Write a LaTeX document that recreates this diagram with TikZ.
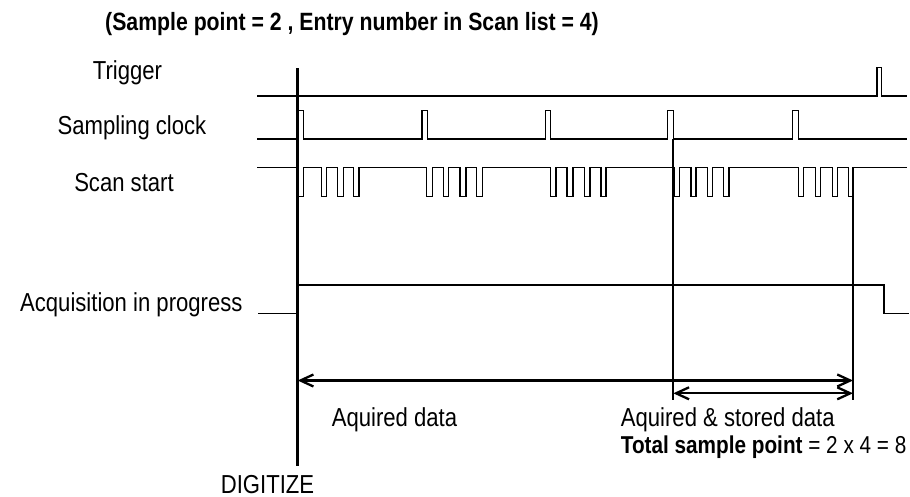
\documentclass[tikz,border=0pt]{standalone}
\usepackage{fontspec}
\setmainfont{Liberation Sans}[FakeStretch=0.85]
\usetikzlibrary{arrows.meta}
\begin{document}
\begin{tikzpicture}[x=1pt,y=-1pt,
  sig/.style={line width=1.4pt, line join=miter},
  thick line/.style={line width=2.8pt},
  mark line/.style={line width=2.3pt},
  dimarrow/.style={line width=2.3pt, {Straight Barb[length=13pt,width=12pt,line width=2.3pt]}-{Straight Barb[length=13pt,width=12pt,line width=2.3pt]}},
  lbl/.style={inner sep=0pt, font=\fontsize{26}{30}\selectfont},
  ttl/.style={inner sep=0pt, font=\fontsize{25}{30}\selectfont\bfseries}]
\useasboundingbox (0,0) rectangle (910,497);

% labels
\node[ttl, anchor=base west] (title) at (105,31) {(Sample point = 2 , Entry number in Scan list = 4)};
\node[lbl, anchor=base] (ltrig) at (127.5,80) {Trigger};
\node[lbl, anchor=base] (lclk) at (132,135) {Sampling clock};
\node[lbl, anchor=base] (lscan) at (124,191.7) {Scan start};
\node[lbl, anchor=base east] (lacq) at (242.7,311.7) {Acquisition in progress};
\node[lbl, anchor=base west] (laq) at (331.6,426.7) {Aquired data};
\node[lbl, anchor=base west] (laqs) at (620.7,426.7) {Aquired \& stored data};
\node[lbl, anchor=base west, font=\fontsize{24.4}{28}\selectfont] (ltot) at (620.7,453) {\textbf{Total sample point} = 2 x 4 = 8};
\node[lbl, anchor=base] (ldig) at (267.5,493) {DIGITIZE};

% Trigger
\draw[sig] (257,96) -- (877,96) -- (877,67.3) -- (881.7,67.3) -- (881.7,96) -- (907,96);

% Sampling clock
\draw[sig] (257,139)
  foreach \a/\b in {297.7/303.3, 422/427.3, 545.3/550.3, 667.3/673.3, 792.3/798.3}
  { -- (\a,139) -- (\a,110.7) -- (\b,110.7) -- (\b,139) } -- (907,139);

% Scan start
\draw[sig] (257,167.5)
  foreach \a/\b in {298/303.3, 321.3/326.7, 337.3/343.3, 353.3/359,
                    426.7/432.7, 443.3/448.7, 460/466, 476.7/482.3,
                    550.3/556, 567/573, 584.5/590, 601/606,
                    674/679.3, 691/696, 707.7/712.7, 723.3/729,
                    798.3/803.3, 815.7/820.7, 832.3/837.3, 848.3/853}
  { -- (\a,167.5) -- (\a,196.7) -- (\b,196.7) -- (\b,167.5) } -- (907,167.5);

% Acquisition in progress
\draw[sig] (258,313.3) -- (297.7,313.3) -- (297.7,285) -- (884,285) -- (884,313.3) -- (909,313.3);

% marker lines
\coordinate (digtop) at (297.7,68.3);
\coordinate (digbot) at (297.7,466);
\coordinate (stTop) at (673.3,139);
\coordinate (stBot) at (673.3,400);
\coordinate (enTop) at (853,196.7);
\coordinate (enBot) at (853,400);
\draw[thick line] (digtop) -- (digbot);
\draw[mark line] (stTop) -- (stBot);
\draw[mark line] (enTop) -- (enBot);

% dimension arrows
\coordinate (a1s) at (297.7,380.5);
\coordinate (a1e) at (853,380.5);
\coordinate (a2s) at (673.3,393.3);
\coordinate (a2e) at (853,393.3);
\draw[dimarrow] (a1s) -- (a1e);
\draw[dimarrow] (a2s) -- (a2e);
\end{tikzpicture}
\end{document}
